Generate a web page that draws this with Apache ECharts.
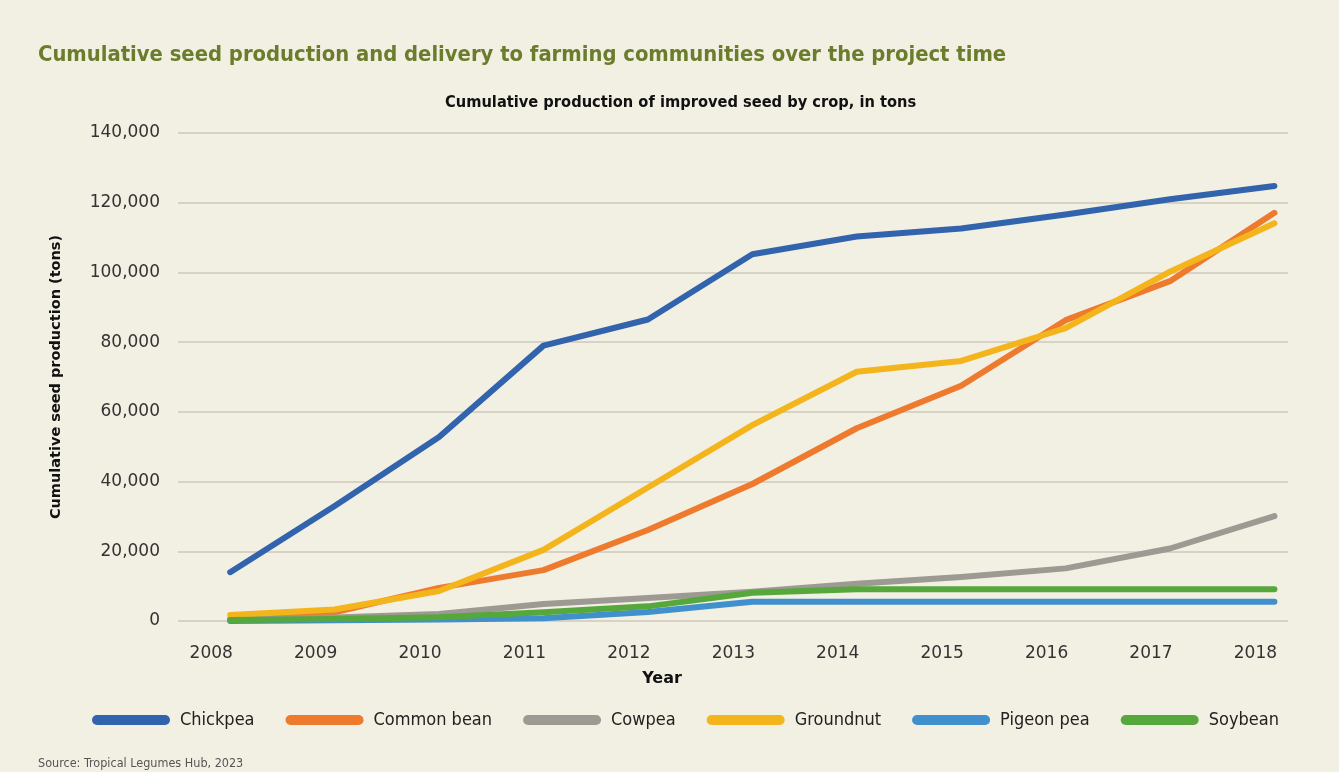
<!DOCTYPE html>
<html>
<head>
<meta charset="utf-8">
<script src="https://cdn.jsdelivr.net/npm/echarts@6/dist/echarts.min.js"></script>
<style>
html,body{margin:0;padding:0;background:#f2efe3;}
#c{width:1339px;height:772px;}
</style>
</head>
<body>
<div id="c"></div>
<script>
var years = [2008, 2009, 2010, 2011, 2012, 2013, 2014, 2015, 2016, 2017, 2018];
var chickpea   = [14000, 33000, 52800, 79000, 86500, 105200, 110300, 112600, 116600, 121000, 124800];
var commonBean = [500, 2500, 9500, 14600, 26100, 39300, 55300, 67500, 86300, 97500, 117100];
var cowpea     = [400, 1000, 2000, 4900, 6600, 8400, 10700, 12600, 15100, 20800, 30100];
var groundnut  = [1700, 3300, 8600, 20400, 38300, 56200, 71500, 74600, 84000, 100200, 114100];
var pigeonPea  = [0, 200, 400, 800, 2600, 5500, 5500, 5500, 5500, 5500, 5500];
var soybean    = [300, 600, 1100, 2500, 4200, 8100, 9100, 9100, 9100, 9100, 9100];
var seriesNames = ['Chickpea', 'Common bean', 'Cowpea', 'Groundnut', 'Pigeon pea', 'Soybean'];
var seriesColors = ['#3263ad', '#ee7a2d', '#9d9993', '#f4b51c', '#3f90cc', '#57a83c'];
var yMin = 0, yMax = 140000, yStep = 20000;

var seriesData = [chickpea, commonBean, cowpea, groundnut, pigeonPea, soybean];
var narrow = '"Liberation Sans Narrow", "DejaVu Sans Condensed", "Liberation Sans", sans-serif';

var chart = echarts.init(document.getElementById('c'), null, {renderer: 'canvas'});
var option = {
  backgroundColor: '#f2efe3',
  animation: false,
  title: [
    {text: 'Cumulative seed production and delivery to farming communities over the project time',
     left: 33, top: 39,
     textStyle: {color: '#6b7d2c', fontSize: 21.8, fontWeight: 'bold', fontFamily: narrow}},
    {text: 'Cumulative production of improved seed by crop, in tons',
     left: 440, top: 90,
     textStyle: {color: '#111', fontSize: 16.3, fontWeight: 'bold', fontFamily: narrow}},
    {text: 'Source: Tropical Legumes Hub, 2023',
     left: 33, top: 752,
     textStyle: {color: '#555', fontSize: 12.5, fontWeight: 'normal', fontFamily: narrow}}
  ],
  grid: {left: 178, right: 51, top: 133, bottom: 151, containLabel: false},
  xAxis: {
    type: 'value', min: 2007.5, max: 2018.13, interval: 0.5,
    name: 'Year', nameLocation: 'middle', nameGap: 50,
    nameTextStyle: {color: '#111', fontSize: 16, fontWeight: 'bold', fontFamily: '"DejaVu Sans", sans-serif', padding: [0, 142, 0, 0]},
    axisLine: {show: false}, axisTick: {show: false}, splitLine: {show: false},
    axisLabel: {
      color: '#333', fontSize: 17, fontFamily: '"DejaVu Sans", sans-serif', margin: 24,
      padding: [0, 38, 0, 0], showMinLabel: true, showMaxLabel: true,
      formatter: function (v) { return Math.abs(v - Math.round(v)) < 1e-6 ? String(Math.round(v)) : ''; }
    }
  },
  yAxis: {
    type: 'value', min: yMin, max: yMax, interval: yStep,
    name: 'Cumulative seed production (tons)', nameLocation: 'middle', nameGap: 114,
    nameTextStyle: {color: '#111', fontSize: 14.5, fontWeight: 'bold', fontFamily: '"DejaVu Sans", sans-serif'},
    axisLine: {show: false}, axisTick: {show: false},
    splitLine: {lineStyle: {color: '#d8d2c6', width: 2}},
    axisLabel: {
      color: '#333', fontSize: 17, fontFamily: '"DejaVu Sans", sans-serif', margin: 18,
      formatter: function (v) { return v.toLocaleString('en-US'); }
    }
  },
  legend: {
    left: 87, top: 706, itemWidth: 78, itemHeight: 10, itemGap: 31,
    icon: 'path://M5,0H73A5,5,0,0,1,73,10H5A5,5,0,0,1,5,0Z',
    textStyle: {color: '#222', fontSize: 18, fontFamily: narrow, padding: [0, 0, 0, 5]},
    data: seriesNames
  },
  series: seriesNames.map(function (n, i) {
    return {
      name: n, type: 'line', symbol: 'none', smooth: false,
      lineStyle: {width: 6, color: seriesColors[i], cap: 'round', join: 'round'},
      itemStyle: {color: seriesColors[i]},
      data: years.map(function (y, k) { return [y, seriesData[i][k]]; })
    };
  })
};
chart.setOption(option);
</script>
</body>
</html>
